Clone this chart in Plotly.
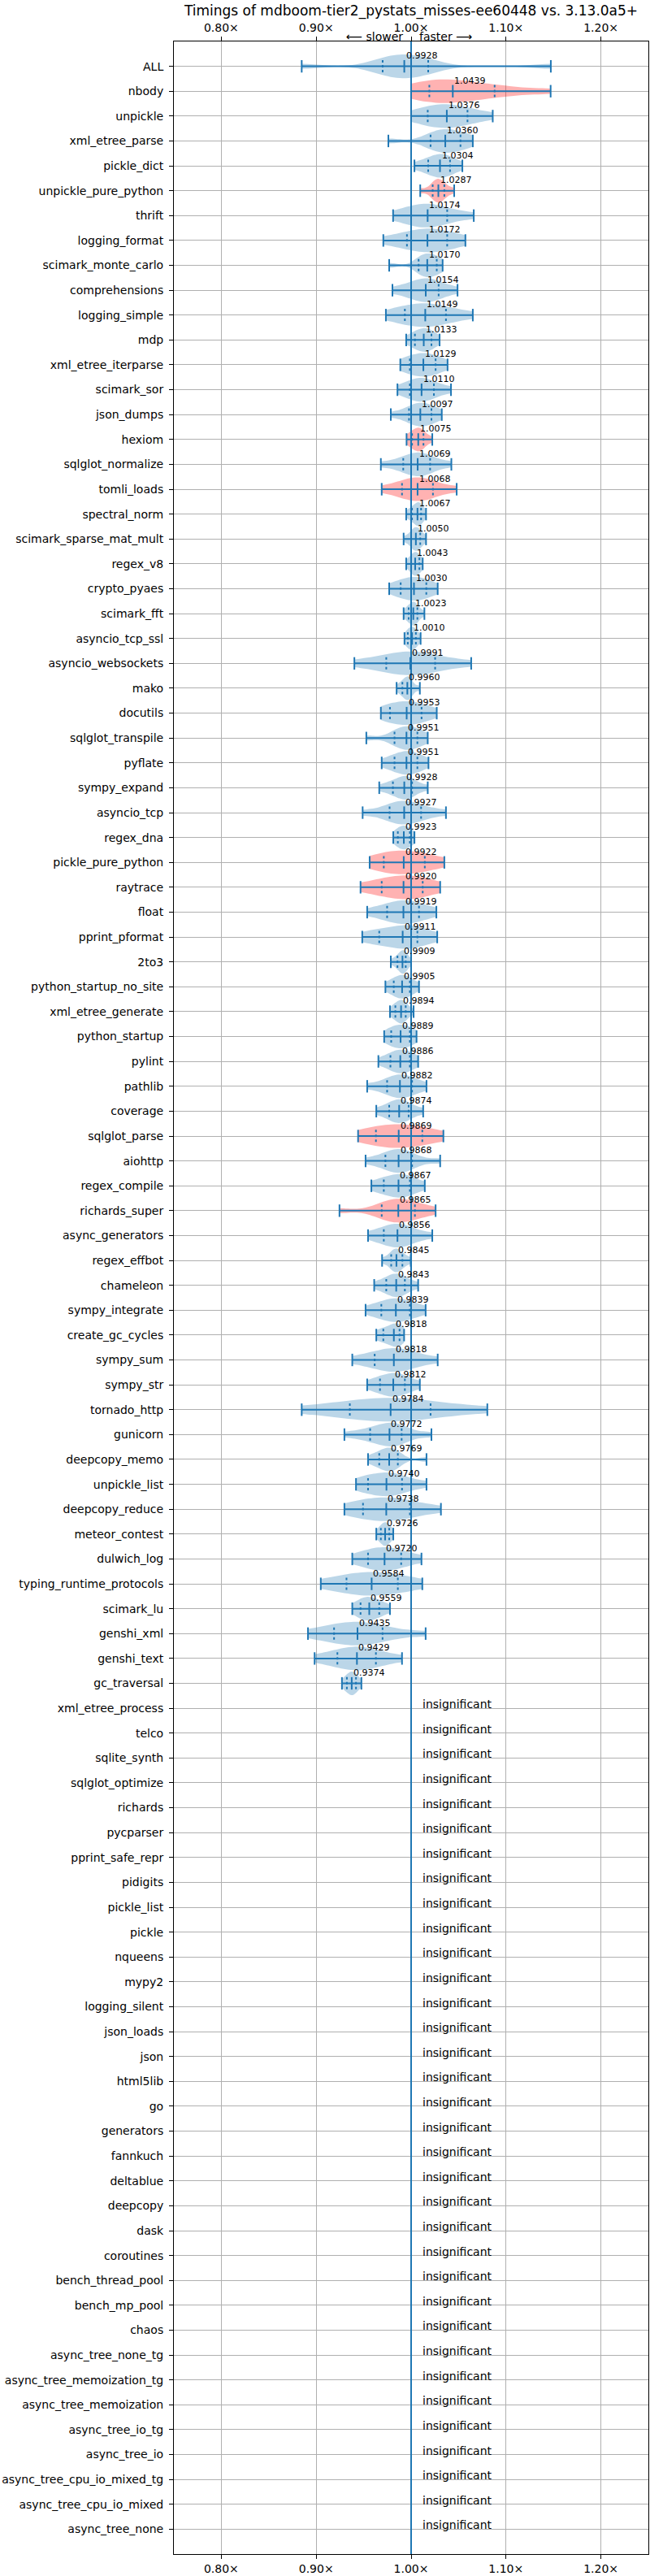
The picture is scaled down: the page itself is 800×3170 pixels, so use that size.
import plotly.graph_objects as go

TITLE = "Timings of mdboom-tier2_pystats_misses-ee60448 vs. 3.13.0a5+"

# benchmarks, top to bottom
benchmarks = [
    "ALL", "nbody", "unpickle", "xml_etree_parse", "pickle_dict",
    "unpickle_pure_python", "thrift", "logging_format", "scimark_monte_carlo",
    "comprehensions", "logging_simple", "mdp", "xml_etree_iterparse",
    "scimark_sor", "json_dumps", "hexiom", "sqlglot_normalize", "tomli_loads",
    "spectral_norm", "scimark_sparse_mat_mult", "regex_v8", "crypto_pyaes",
    "scimark_fft", "asyncio_tcp_ssl", "asyncio_websockets", "mako", "docutils",
    "sqlglot_transpile", "pyflate", "sympy_expand", "asyncio_tcp", "regex_dna",
    "pickle_pure_python", "raytrace", "float", "pprint_pformat", "2to3",
    "python_startup_no_site", "xml_etree_generate", "python_startup", "pylint",
    "pathlib", "coverage", "sqlglot_parse", "aiohttp", "regex_compile",
    "richards_super", "async_generators", "regex_effbot", "chameleon",
    "sympy_integrate", "create_gc_cycles", "sympy_sum", "sympy_str",
    "tornado_http", "gunicorn", "deepcopy_memo", "unpickle_list",
    "deepcopy_reduce", "meteor_contest", "dulwich_log",
    "typing_runtime_protocols", "scimark_lu", "genshi_xml", "genshi_text",
    "gc_traversal",
    # insignificant ones
    "xml_etree_process", "telco", "sqlite_synth", "sqlglot_optimize",
    "richards", "pycparser", "pprint_safe_repr", "pidigits", "pickle_list",
    "pickle", "nqueens", "mypy2", "logging_silent", "json_loads", "json",
    "html5lib", "go", "generators", "fannkuch", "deltablue", "deepcopy", "dask",
    "coroutines", "bench_thread_pool", "bench_mp_pool", "chaos",
    "async_tree_none_tg", "async_tree_memoization_tg", "async_tree_memoization",
    "async_tree_io_tg", "async_tree_io", "async_tree_cpu_io_mixed_tg",
    "async_tree_cpu_io_mixed", "async_tree_none",
]
n_significant = 66

# per-benchmark summary of the timing ratio distribution (significant rows)
medians = [
    0.9928, 1.0439, 1.0376, 1.0360, 1.0304, 1.0287, 1.0174, 1.0172, 1.0170,
    1.0154, 1.0149, 1.0133, 1.0129, 1.0110, 1.0097, 1.0075, 1.0069, 1.0068,
    1.0067, 1.0050, 1.0043, 1.0030, 1.0023, 1.0010, 0.9991, 0.9960, 0.9953,
    0.9951, 0.9951, 0.9928, 0.9927, 0.9923, 0.9922, 0.9920, 0.9919, 0.9911,
    0.9909, 0.9905, 0.9894, 0.9889, 0.9886, 0.9882, 0.9874, 0.9869, 0.9868,
    0.9867, 0.9865, 0.9856, 0.9845, 0.9843, 0.9839, 0.9818, 0.9818, 0.9812,
    0.9784, 0.9772, 0.9769, 0.9740, 0.9738, 0.9726, 0.9720, 0.9584, 0.9559,
    0.9435, 0.9429, 0.9374,
]
mins = [
    0.8847, 1.0000, 1.0000, 0.9760, 1.0035, 1.0096, 0.9810, 0.9707, 0.9769,
    0.9803, 0.9734, 0.9948, 0.9886, 0.9856, 0.9786, 0.9952, 0.9681, 0.9690,
    0.9948, 0.9921, 0.9948, 0.9769, 0.9921, 0.9930, 0.9402, 0.9847, 0.9681,
    0.9528, 0.9690, 0.9664, 0.9489, 0.9812, 0.9563, 0.9467, 0.9537, 0.9485,
    0.9786, 0.9729, 0.9777, 0.9716, 0.9655, 0.9537, 0.9633, 0.9441, 0.9520,
    0.9581, 0.9245, 0.9546, 0.9694, 0.9611, 0.9520, 0.9633, 0.9380, 0.9537,
    0.8847, 0.9297, 0.9546, 0.9419, 0.9297, 0.9633, 0.9380, 0.9048, 0.9380,
    0.8913, 0.8983, 0.9271,
]
q1s = [
    0.9700, 1.0192, 1.0175, 1.0205, 1.0180, 1.0227, 1.0000, 0.9956, 1.0079,
    1.0000, 0.9934, 1.0040, 0.9987, 0.9987, 0.9978, 1.0010, 0.9917, 0.9904,
    1.0009, 1.0000, 1.0000, 0.9890, 0.9974, 0.9965, 0.9738, 0.9908, 0.9777,
    0.9825, 0.9825, 0.9808, 0.9773, 0.9860, 0.9712, 0.9690, 0.9747, 0.9664,
    0.9856, 0.9817, 0.9834, 0.9790, 0.9782, 0.9747, 0.9769, 0.9629, 0.9729,
    0.9712, 0.9690, 0.9712, 0.9790, 0.9738, 0.9686, 0.9707, 0.9616, 0.9672,
    0.9354, 0.9568, 0.9664, 0.9546, 0.9493, 0.9681, 0.9546, 0.9319, 0.9467,
    0.9188, 0.9223, 0.9323,
]
q3s = [
    1.0180, 1.0880, 1.0594, 1.0520, 1.0410, 1.0350, 1.0380, 1.0380, 1.0270,
    1.0290, 1.0367, 1.0214, 1.0258, 1.0240, 1.0214, 1.0130, 1.0200, 1.0230,
    1.0105, 1.0096, 1.0087, 1.0160, 1.0066, 1.0050, 1.0253, 1.0000, 1.0110,
    1.0066, 1.0066, 1.0010, 1.0105, 0.9987, 1.0144, 1.0122, 1.0083, 1.0066,
    0.9943, 0.9987, 0.9943, 0.9987, 0.9987, 1.0010, 0.9974, 1.0118, 1.0010,
    0.9987, 1.0040, 1.0000, 0.9908, 0.9934, 0.9987, 0.9878, 1.0000, 0.9934,
    1.0205, 0.9900, 0.9860, 0.9904, 0.9987, 0.9769, 0.9895, 0.9860, 0.9664,
    0.9699, 0.9629, 0.9419,
]
maxs = [
    1.1472, 1.1470, 1.0860, 1.0650, 1.0540, 1.0454, 1.0660, 1.0572, 1.0332,
    1.0489, 1.0650, 1.0300, 1.0384, 1.0420, 1.0323, 1.0223, 1.0424, 1.0480,
    1.0157, 1.0157, 1.0122, 1.0280, 1.0140, 1.0100, 1.0633, 1.0092, 1.0270,
    1.0175, 1.0183, 1.0175, 1.0367, 1.0035, 1.0350, 1.0306, 1.0266, 1.0275,
    1.0000, 1.0083, 1.0026, 1.0057, 1.0074, 1.0162, 1.0127, 1.0340, 1.0306,
    1.0144, 1.0258, 1.0223, 0.9996, 1.0074, 1.0153, 0.9926, 1.0280, 1.0092,
    1.0803, 1.0214, 1.0162, 1.0162, 1.0314, 0.9812, 1.0109, 1.0118, 0.9777,
    1.0153, 0.9904, 0.9476,
]
highlighted = [
    "nbody", "unpickle_pure_python", "hexiom", "tomli_loads",
    "pickle_pure_python", "raytrace", "sqlglot_parse", "richards_super",
]
x_ticks = [0.8, 0.9, 1.0, 1.1, 1.2]

BLUE = "#1f77b4"
BLUE_FILL = "rgba(31,119,180,0.3)"
RED_FILL = "rgba(255,0,0,0.3)"
FONT = "DejaVu Sans"
HALF = 0.25  # half length of the vertical markers, in rows

fig = go.Figure()

# violins
for i in range(n_significant):
    samples = [mins[i], q1s[i], q1s[i], medians[i], medians[i], medians[i],
               q3s[i], q3s[i], maxs[i]]
    fill = RED_FILL if benchmarks[i] in highlighted else BLUE_FILL
    fig.add_trace(go.Violin(
        x=samples, y0=i, orientation="h", width=0.95, side="both",
        spanmode="hard", bandwidth=0.4 * (q3s[i] - q1s[i]),
        scalemode="width", points=False, box_visible=False,
        meanline_visible=False, fillcolor=fill,
        line=dict(width=0, color=fill), hoverinfo="skip", showlegend=False,
    ))

# extrema bars, caps, medians and quartiles
bar_x, bar_y, tick_x, tick_y, quart_x, quart_y = [], [], [], [], [], []
for i in range(n_significant):
    bar_x += [mins[i], maxs[i], None]
    bar_y += [i, i, None]
    for v in (mins[i], maxs[i], medians[i]):
        tick_x += [v, v, None]
        tick_y += [i - HALF, i + HALF, None]
    for v in (q1s[i], q3s[i]):
        quart_x += [v, v, None]
        quart_y += [i - HALF, i + HALF, None]

fig.add_trace(go.Scatter(x=bar_x, y=bar_y, mode="lines",
                         line=dict(color=BLUE, width=2),
                         hoverinfo="skip", showlegend=False))
fig.add_trace(go.Scatter(x=tick_x, y=tick_y, mode="lines",
                         line=dict(color=BLUE, width=2),
                         hoverinfo="skip", showlegend=False))
fig.add_trace(go.Scatter(x=quart_x, y=quart_y, mode="lines",
                         line=dict(color=BLUE, width=2, dash="dot"),
                         hoverinfo="skip", showlegend=False))

# reference line at 1.00x (on the top axis so that it gets drawn)
fig.add_trace(go.Scatter(x=[1.0, 1.0], y=[-1, len(benchmarks)], mode="lines",
                         line=dict(color=BLUE, width=2), xaxis="x2",
                         hoverinfo="skip", showlegend=False))

annotations = []
for i in range(n_significant):
    annotations.append(dict(
        x=medians[i], y=i, text=f"{medians[i]:.4f}", showarrow=False,
        xanchor="left", yanchor="middle", yshift=13,
        font=dict(family=FONT, size=11, color="black"),
    ))
for i in range(n_significant, len(benchmarks)):
    annotations.append(dict(
        x=1.01, y=i, text="insignificant", showarrow=False,
        xanchor="left", yanchor="middle", yshift=5,
        font=dict(family=FONT, size=14, color="black"),
    ))
annotations.append(dict(
    x=0.993, y=1, xref="x", yref="paper", text="⟵ slower", showarrow=False,
    xanchor="right", yanchor="middle", yshift=6,
    font=dict(family=FONT, size=14, color="black"),
))
annotations.append(dict(
    x=1.007, y=1, xref="x", yref="paper", text="faster ⟶", showarrow=False,
    xanchor="left", yanchor="middle", yshift=6,
    font=dict(family=FONT, size=14, color="black"),
))

tick_text = [f"{v:.2f}×" for v in x_ticks]
axis_common = dict(
    range=[0.75, 1.25], tickvals=x_ticks, ticktext=tick_text,
    ticks="outside", ticklen=5, tickcolor="black",
    tickfont=dict(family=FONT, size=14, color="black"),
    showline=True, linecolor="black", linewidth=1,
)

fig.update_layout(
    width=800, height=3170,
    margin=dict(l=214, r=1, t=51, b=25),
    paper_bgcolor="white", plot_bgcolor="white",
    violinmode="overlay",
    showlegend=False,
    title=dict(text=TITLE, x=0.5, xref="paper", xanchor="center",
               y=1 - 13 / 3170, yref="container", yanchor="middle",
               font=dict(family=FONT, size=17, color="black")),
    xaxis=dict(**axis_common, side="bottom", showgrid=True,
               gridcolor="#b0b0b0", gridwidth=1, zeroline=False),
    xaxis2=dict(**axis_common, side="top", overlaying="x", showgrid=False,
                zeroline=False),
    yaxis=dict(range=[len(benchmarks), -1], tickvals=list(range(len(benchmarks))),
               ticktext=benchmarks, ticks="outside", ticklen=5,
               tickcolor="black", ticklabelstandoff=4,
               tickfont=dict(family=FONT, size=14, color="black"),
               showgrid=True, gridcolor="#b0b0b0", gridwidth=1,
               zeroline=False, showline=True, mirror=True,
               linecolor="black", linewidth=1),
    annotations=annotations,
)

# the page's default body margin would push the 800x3170 figure off the window
fig.write_html("out.html",
               config={"displayModeBar": False},
               post_script="document.body.style.margin = '0';")
